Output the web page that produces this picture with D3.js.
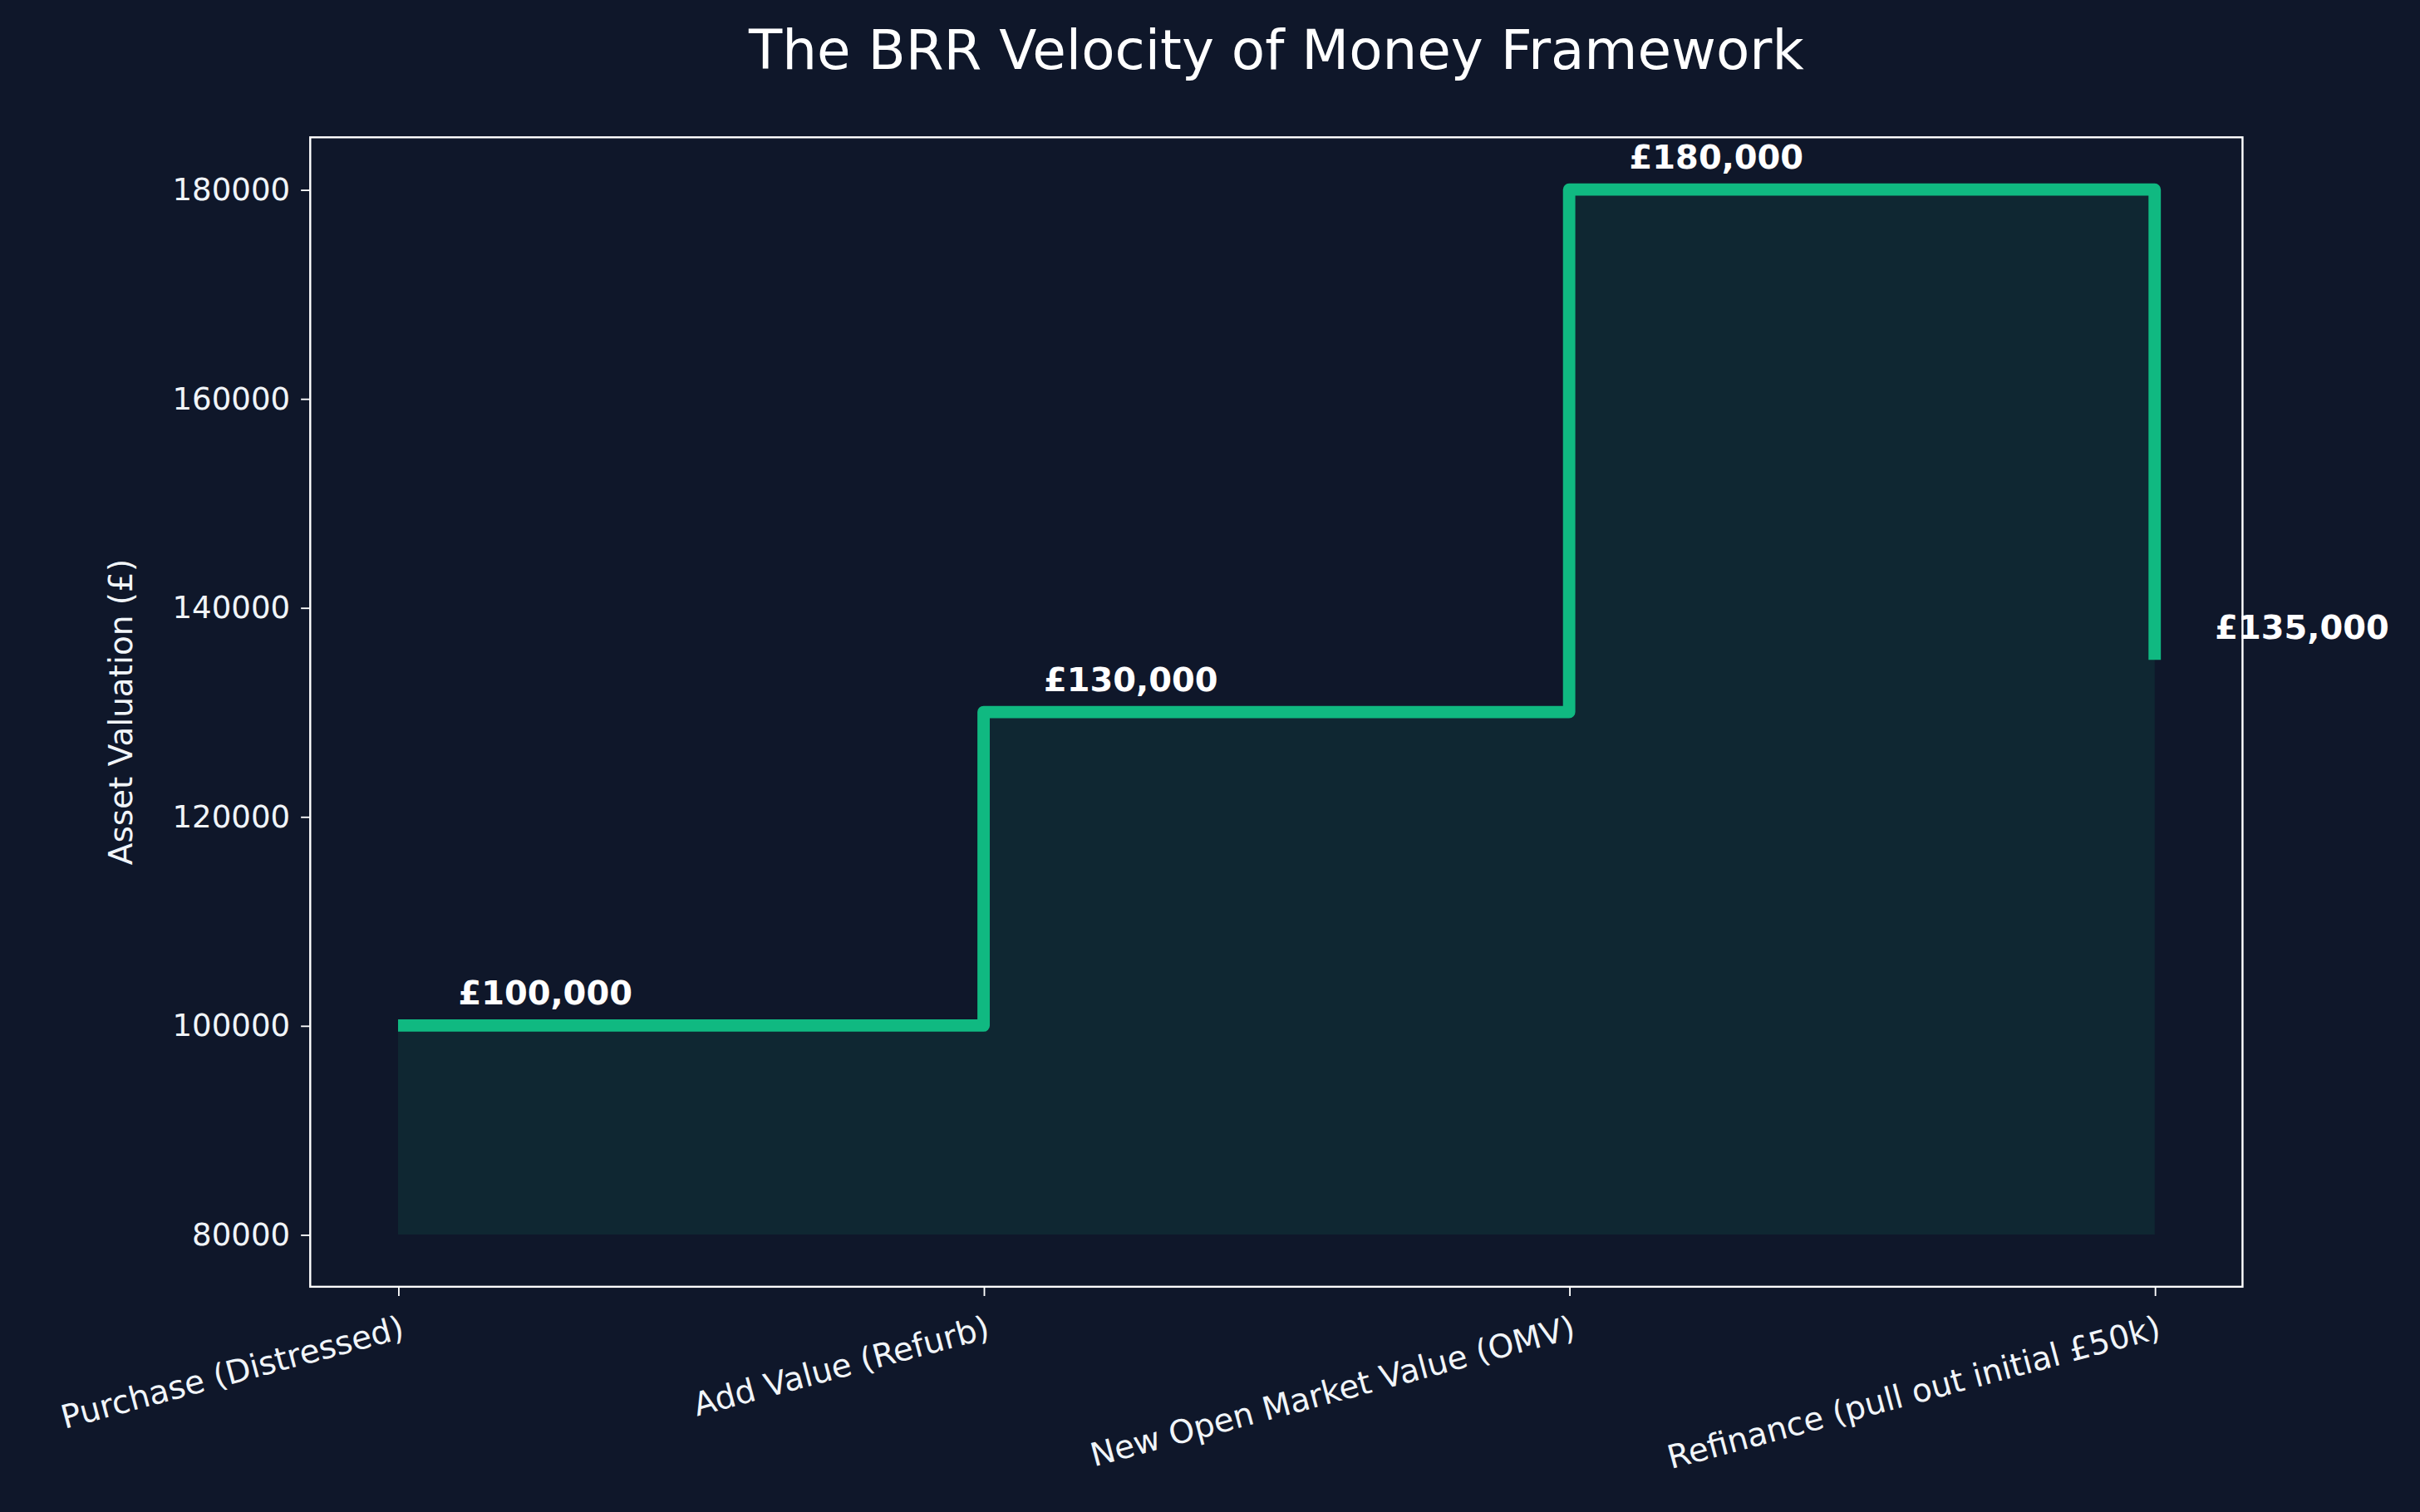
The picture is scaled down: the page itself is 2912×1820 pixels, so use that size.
<!DOCTYPE html>
<html><head><meta charset="utf-8">
<script src="https://cdn.jsdelivr.net/npm/d3@7"></script>
<style>html,body{margin:0;padding:0;background:#0f172a;overflow:hidden}</style>
</head><body>
<script>
const categories = ["Purchase (Distressed)","Add Value (Refurb)","New Open Market Value (OMV)","Refinance (pull out initial £50k)"];
const values = [100000,130000,180000,135000];
const labels = ["£100,000","£130,000","£180,000","£135,000"];
const yTicks = [80000,100000,120000,140000,160000,180000];
const baseValue = 80000;

const W=1568,H=980;
const svg=d3.select("body").append("svg").attr("width",2912).attr("height",1820)
  .attr("viewBox",`0 0 ${W} ${H}`).style("font-family","DejaVu Sans");
svg.append("rect").attr("width",W).attr("height",H).attr("fill","#0f172a");
const L=201,R=1453,T=89,B=834;
const x=d3.scalePoint().domain(categories).range([L,R]).padding(0.15);
const y=d3.scaleLinear().domain([75000,185000]).range([B,T]);
const data=categories.map((c,i)=>({c,v:values[i]}));

svg.append("path").datum(data).attr("fill","#10b981").attr("fill-opacity",0.1)
  .attr("d",d3.area().curve(d3.curveStepAfter).x(d=>x(d.c)).y0(y(baseValue)).y1(d=>y(d.v)));
svg.append("path").datum(data).attr("fill","none").attr("stroke","#10b981").attr("stroke-width",8)
  .attr("stroke-linejoin","round")
  .attr("d",d3.line().curve(d3.curveStepAfter).x(d=>x(d.c)).y(d=>y(d.v)));
svg.append("rect").attr("x",L).attr("y",T).attr("width",R-L).attr("height",B-T)
  .attr("fill","none").attr("stroke","#fff").attr("stroke-width",1.3);

const ya=svg.append("g").attr("transform",`translate(${L},0)`).call(d3.axisLeft(y).tickValues(yTicks).tickSize(6).tickPadding(7).tickFormat(d3.format("d")));
const xa=svg.append("g").attr("transform",`translate(0,${B})`).call(d3.axisBottom(x).tickSize(6).tickPadding(8));
[ya,xa].forEach(a=>{a.select(".domain").remove();a.selectAll("line").attr("stroke","#fff");
  a.selectAll("text").attr("fill","#f1f5f9").style("font-size","20px").style("font-family","DejaVu Sans");});
xa.selectAll("text").style("font-size","21px").attr("text-anchor","end").attr("transform","rotate(-15)").attr("dy","0.9em").attr("dx","-0.2em");

svg.selectAll(".lbl").data(data).join("text").attr("x",d=>x(d.c)+39).attr("y",d=>y(d.v)-21)
  .attr("dy","0.35em").attr("fill","#fff").style("font-size","21.5px").style("font-weight","bold")
  .text((d,i)=>labels[i]);
svg.append("text").attr("x",W/2+43).attr("y",32).attr("dy","0.35em").attr("text-anchor","middle")
  .attr("fill","#fff").style("font-size","35.5px").text("The BRR Velocity of Money Framework");
svg.append("text").attr("transform",`translate(78,${(T+B)/2}) rotate(-90)`).attr("text-anchor","middle")
  .attr("dy","0.35em").attr("fill","#f1f5f9").style("font-size","21px").text("Asset Valuation (£)");
</script>
</body></html>
